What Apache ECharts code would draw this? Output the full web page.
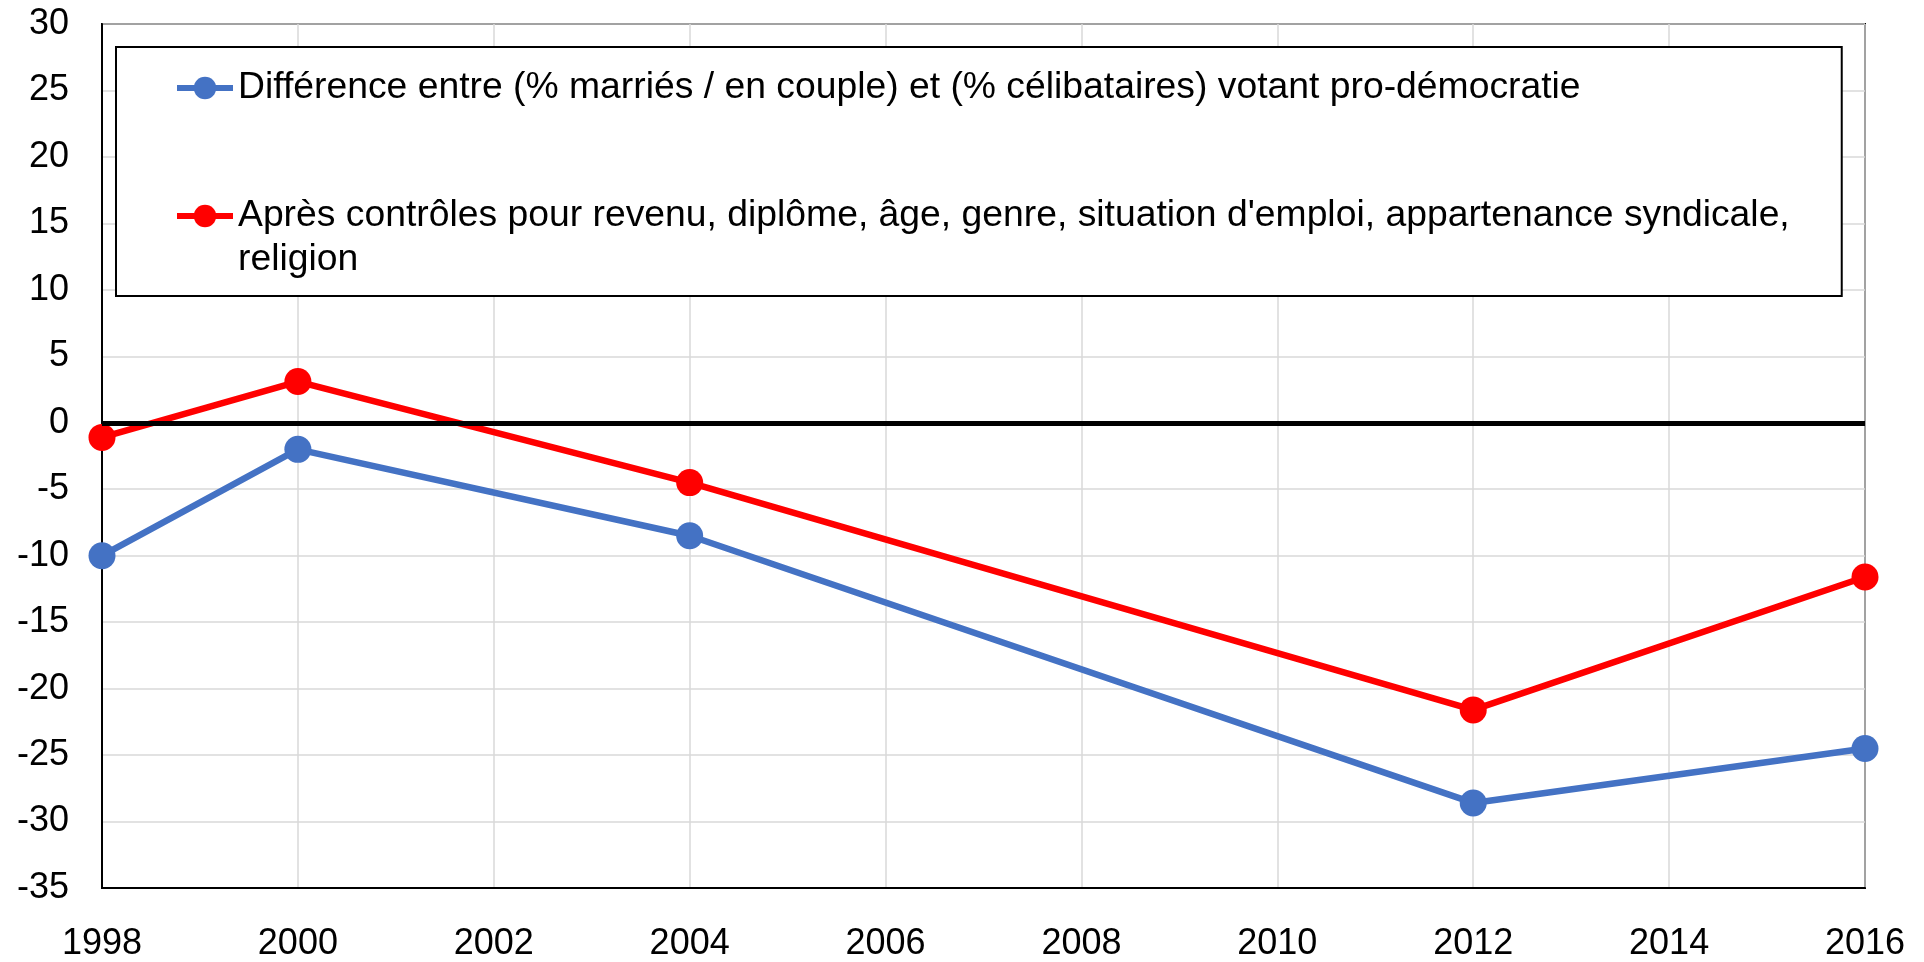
<!DOCTYPE html>
<html>
<head>
<meta charset="utf-8">
<title>Clivage marital</title>
<script src="https://cdn.jsdelivr.net/npm/echarts@6/dist/echarts.min.js"></script>
<style>
  html, body { margin: 0; padding: 0; background: #fff; }
  #chart { width: 1924px; height: 962px; }
</style>
</head>
<body>
<div id="chart"></div>
<script>
// années d'enquête
const years = [1998, 2000, 2004, 2012, 2016];
// écart brut (marriés - célibataires)
const rawGap = [-10.0, -2.0, -8.5, -28.6, -24.5];
// écart après contrôles
const controlledGap = [-1.1, 3.1, -4.5, -21.6, -11.6];

const rawName = 'Différence entre (% marriés / en couple) et (% célibataires) votant pro-démocratie';
const controlledName = "Après contrôles pour revenu, diplôme, âge, genre, situation d'emploi, appartenance syndicale,\nreligion";

const font = "'Liberation Sans', Arial, sans-serif";

const chart = echarts.init(document.getElementById('chart'));

chart.setOption({
  animation: false,
  textStyle: { fontFamily: font },
  grid: {
    left: 102,
    right: 59,
    top: 24,
    bottom: 74,
    show: true,
    borderColor: '#000',
    borderWidth: 2
  },
  legend: {
    orient: 'vertical',
    left: 116,
    top: 47,
    padding: [19, 52, 14, 58],
    borderColor: '#000',
    borderWidth: 2,
    backgroundColor: '#fff',
    itemWidth: 56,
    itemHeight: 28,
    itemGap: 40,
    selectedMode: false,
    lineStyle: { width: 6 },
    textStyle: { fontSize: 37.3, color: '#000', fontFamily: font, lineHeight: 44 },
    // ligne vide devant pour caler l'icône sur la première ligne du texte
    formatter: name => (name === controlledName ? '\n' + name : name),
    data: [rawName, controlledName]
  },
  xAxis: {
    type: 'value',
    min: 1998,
    max: 2016,
    interval: 2,
    axisLine: { onZero: false, lineStyle: { color: '#000', width: 2 } },
    axisTick: { show: false },
    axisLabel: { fontSize: 36, color: '#000', margin: 38, fontFamily: font, formatter: v => String(v) },
    splitLine: { show: true, lineStyle: { color: '#d9d9d9', width: 1.5 } }
  },
  yAxis: {
    type: 'value',
    min: -35,
    max: 30,
    interval: 5,
    axisLine: { show: true, lineStyle: { color: '#000', width: 2 } },
    axisTick: { show: false },
    axisLabel: { fontSize: 36, color: '#000', margin: 33, fontFamily: font },
    splitLine: { show: true, lineStyle: { color: '#d9d9d9', width: 1.5 } }
  },
  series: [
    {
      name: rawName,
      type: 'line',
      data: years.map((y, i) => [y, rawGap[i]]),
      symbol: 'circle',
      symbolSize: 27,
      color: '#4472C4',
      lineStyle: { width: 6.5, color: '#4472C4' },
      itemStyle: { color: '#4472C4' },
      z: 3,
      markLine: {
        silent: true,
        symbol: 'none',
        label: { show: false },
        lineStyle: { color: '#000', width: 5, type: 'solid' },
        data: [{ yAxis: 0 }]
      }
    },
    {
      name: controlledName,
      type: 'line',
      data: years.map((y, i) => [y, controlledGap[i]]),
      symbol: 'circle',
      symbolSize: 27,
      color: '#FF0000',
      lineStyle: { width: 6.5, color: '#FF0000' },
      itemStyle: { color: '#FF0000' },
      z: 4
    }
  ]
});
</script>
</body>
</html>
